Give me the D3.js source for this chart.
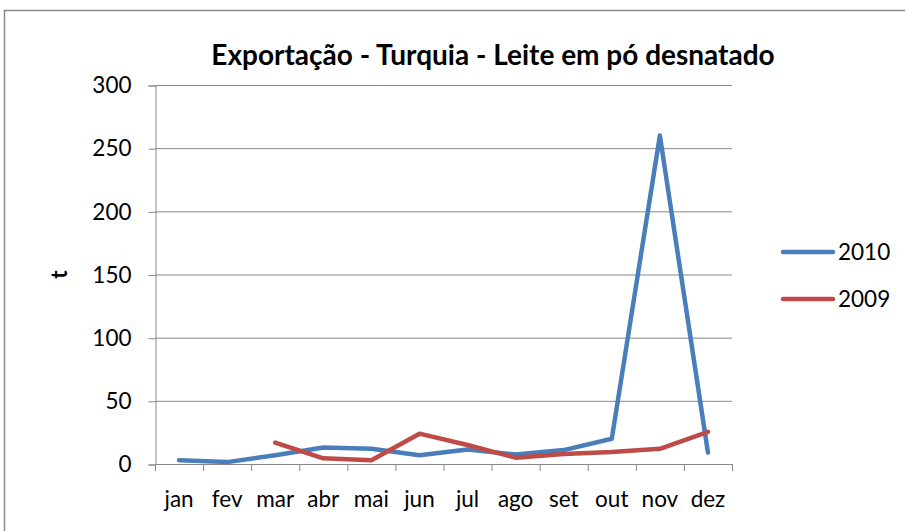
<!DOCTYPE html>
<html>
<head>
<meta charset="utf-8">
<script src="https://cdn.jsdelivr.net/npm/d3@7"></script>
<style>
  body { margin: 0; background: #fff; }
  svg { display: block; font-family: Lato, "Open Sans", sans-serif; }
</style>
</head>
<body>
<div id="chart"></div>
<script>
var months = ['jan', 'fev', 'mar', 'abr', 'mai', 'jun', 'jul', 'ago', 'set', 'out', 'nov', 'dez'];
var values2010 = [3, 1.5, 7, 13, 12, 7, 11.5, 7.5, 11, 20, 260, 9];
var values2009 = [null, null, 17, 4.5, 3, 24, 15, 5, 8, 9.5, 12, 25.5];
var yTicks = [0, 50, 100, 150, 200, 250, 300];
var seriesNames = ['2010', '2009'];
var seriesColors = ['#4a7ebb', '#be4b48'];

var width = 905, height = 531;
var margin = { left: 155, right: 173, top: 85, bottom: 67 };
var labelSize = 22.5;

var svg = d3.select('#chart').append('svg')
  .attr('width', width)
  .attr('height', height);

// chart border
svg.append('rect')
  .attr('x', 4.5).attr('y', 10.5)
  .attr('width', 910).attr('height', 540)
  .attr('fill', 'none')
  .attr('stroke', '#898989')
  .attr('stroke-width', 1.5);

var x = d3.scaleBand()
  .domain(months)
  .range([margin.left, width - margin.right]);

var y = d3.scaleLinear()
  .domain([0, 300])
  .range([height - margin.bottom, margin.top]);

// gridlines
svg.append('g')
  .selectAll('line')
  .data(yTicks.filter(function(d) { return d > 0; }))
  .join('line')
  .attr('x1', margin.left).attr('x2', width - margin.right)
  .attr('y1', function(d) { return y(d) + 0.5; })
  .attr('y2', function(d) { return y(d) + 0.5; })
  .attr('stroke', '#888')
  .attr('stroke-width', 1);

// y axis
var yAxis = svg.append('g')
  .attr('transform', 'translate(' + (margin.left + 0.5) + ',0.5)')
  .call(d3.axisLeft(y).tickValues(yTicks).tickSize(7).tickPadding(17));
yAxis.selectAll('path, line').attr('stroke', '#888');
yAxis.selectAll('text')
  .attr('font-size', labelSize)
  .attr('fill', '#000')
  .attr('font-family', 'Lato, sans-serif');

// x axis
var xAxis = svg.append('g')
  .attr('transform', 'translate(0,' + (height - margin.bottom + 0.5) + ')')
  .call(d3.axisBottom(x).tickSize(0).tickPadding(27));
xAxis.select('.domain').attr('stroke', '#888').attr('d',
  'M' + margin.left + ',0H' + (width - margin.right));
xAxis.selectAll('text')
  .attr('font-size', labelSize)
  .attr('fill', '#000')
  .attr('font-family', 'Lato, sans-serif');

// x tick marks between categories
svg.append('g')
  .selectAll('line')
  .data(months.concat(['end']))
  .join('line')
  .attr('x1', function(d, i) { return margin.left + i * x.step() + 0.5; })
  .attr('x2', function(d, i) { return margin.left + i * x.step() + 0.5; })
  .attr('y1', height - margin.bottom)
  .attr('y2', height - margin.bottom + 7)
  .attr('stroke', '#888');

// axis title
svg.append('text')
  .attr('transform', 'translate(67,' + y(150) + ') rotate(-90)')
  .attr('text-anchor', 'middle')
  .attr('font-size', labelSize)
  .attr('font-weight', 'bold')
  .text('t');

// title
svg.append('text')
  .attr('x', 493).attr('y', 65)
  .attr('text-anchor', 'middle')
  .attr('font-size', 28)
  .attr('font-weight', 'bold')
  .text('Exportação - Turquia - Leite em pó desnatado');

// lines
var line = d3.line()
  .defined(function(d) { return d.v !== null; })
  .x(function(d) { return x(d.m) + x.bandwidth() / 2; })
  .y(function(d) { return y(d.v); });

[values2010, values2009].forEach(function(vals, i) {
  var pts = months.map(function(m, j) { return { m: m, v: vals[j] }; });
  svg.append('path')
    .datum(pts)
    .attr('d', line)
    .attr('fill', 'none')
    .attr('stroke', seriesColors[i])
    .attr('stroke-width', 4.5)
    .attr('stroke-linejoin', 'round')
    .attr('stroke-linecap', 'round');
});

// legend
var legend = svg.append('g')
  .selectAll('g')
  .data(seriesNames)
  .join('g')
  .attr('transform', function(d, i) { return 'translate(783,' + (252 + i * 47) + ')'; });
legend.append('line')
  .attr('x1', 0).attr('x2', 50)
  .attr('stroke', function(d, i) { return seriesColors[i]; })
  .attr('stroke-width', 4.5)
  .attr('stroke-linecap', 'round');
legend.append('text')
  .attr('x', 55).attr('y', 8)
  .attr('font-size', labelSize)
  .text(function(d) { return d; });
</script>
</body>
</html>
